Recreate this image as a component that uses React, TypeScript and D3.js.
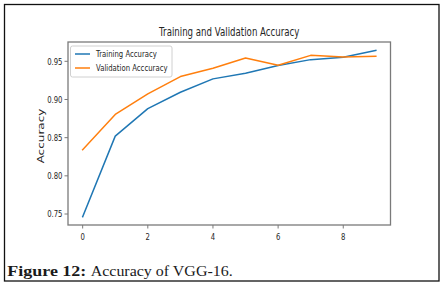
import React from "react";
import * as d3 from "d3";

const epochs = [0, 1, 2, 3, 4, 5, 6, 7, 8, 9];
const trainingAcc = [0.7465, 0.852, 0.888, 0.9095, 0.927, 0.9343, 0.9444, 0.9522, 0.9552, 0.9644];
const validationAcc = [0.8343, 0.8804, 0.9074, 0.930, 0.941, 0.9544, 0.9448, 0.9578, 0.9557, 0.9565];
const xTicks = [0, 2, 4, 6, 8];
const yTicks = [0.75, 0.8, 0.85, 0.9, 0.95];
const seriesNames = ["Training Accuracy", "Validation Acccuracy"];
const title = "Training and Validation Accuracy";
const yLabel = "Accuracy";
const captionBold = "Figure 12:";
const captionText = "Accuracy of VGG-16.";

const W = 442;
const H = 287;
const plot = { left: 68, right: 390.5, top: 42, bottom: 225 };
const SX = 0.75;
const FONT = "DejaVu Sans";
const BLUE = "#1f77b4";
const ORANGE = "#ff7f0e";

export default function App() {
  const all = [...trainingAcc, ...validationAcc];
  const yMin = d3.min(all)!;
  const yMax = d3.max(all)!;
  const yPad = (yMax - yMin) * 0.05;
  const xPad = (d3.max(epochs)! - d3.min(epochs)!) * 0.05;

  const x = d3
    .scaleLinear()
    .domain([d3.min(epochs)! - xPad, d3.max(epochs)! + xPad])
    .range([plot.left, plot.right]);
  const y = d3
    .scaleLinear()
    .domain([yMin - yPad, yMax + yPad])
    .range([plot.bottom, plot.top]);

  const line = d3
    .line<number>()
    .x((_, i) => x(epochs[i]))
    .y((d) => y(d));

  const series = [
    { name: seriesNames[0], values: trainingAcc, color: BLUE },
    { name: seriesNames[1], values: validationAcc, color: ORANGE },
  ];

  const spine = "#7a7a7a";
  const textColor = "#262626";

  return (
    <svg
      width={W}
      height={H}
      viewBox={`0 0 ${W} ${H}`}
      style={{ position: "absolute", left: 0, top: 0, background: "#fff" }}
    >
      <rect x={0} y={0} width={W} height={H} fill="#fff" />
      {/* outer figure frame */}
      <rect x={4.5} y={4.5} width={434.5} height={276.5} fill="none" stroke="#111" strokeWidth={1.3} />

      {/* title */}
      <g transform={`translate(${(plot.left + plot.right) / 2},36) scale(${SX},1)`}>
        <text textAnchor="middle" fontFamily={FONT} fontSize={11.5} fill={textColor}>
          {title}
        </text>
      </g>

      {/* lines */}
      <g>
        {series.map((s) => (
          <path
            key={s.name}
            d={line(s.values) || ""}
            fill="none"
            stroke={s.color}
            strokeWidth={1.5}
            strokeLinejoin="round"
            strokeLinecap="square"
          />
        ))}
      </g>

      {/* spines */}
      <rect
        x={plot.left}
        y={plot.top}
        width={plot.right - plot.left}
        height={plot.bottom - plot.top}
        fill="none"
        stroke={spine}
        strokeWidth={1.3}
      />

      {/* x ticks */}
      {xTicks.map((t) => (
        <g key={`x${t}`}>
          <line x1={x(t)} x2={x(t)} y1={plot.bottom} y2={plot.bottom + 3.5} stroke={spine} strokeWidth={1} />
          <g transform={`translate(${x(t)},239.5) scale(${SX},1)`}>
            <text textAnchor="middle" fontFamily={FONT} fontSize={9.2} fill={textColor}>
              {String(t)}
            </text>
          </g>
        </g>
      ))}

      {/* y ticks */}
      {yTicks.map((t) => (
        <g key={`y${t}`}>
          <line x1={plot.left - 3.5} x2={plot.left} y1={y(t)} y2={y(t)} stroke={spine} strokeWidth={1} />
          <g transform={`translate(${plot.left - 5.5},${y(t) + 3.3}) scale(${SX},1)`}>
            <text textAnchor="end" fontFamily={FONT} fontSize={9.2} fill={textColor}>
              {d3.format(".2f")(t)}
            </text>
          </g>
        </g>
      ))}

      {/* y label */}
      <g transform={`translate(44,136) scale(${SX},1) rotate(-90)`}>
        <text textAnchor="middle" fontFamily={FONT} fontSize={12} fill={textColor}>
          {yLabel}
        </text>
      </g>

      {/* legend */}
      <rect x={70.5} y={46} width={101.5} height={31} rx={2} fill="#fff" fillOpacity={0.8} stroke="#d0d0d0" strokeWidth={1} />
      {series.map((s, i) => (
        <g key={`leg${s.name}`}>
          <line x1={75} x2={90} y1={54 + i * 14} y2={54 + i * 14} stroke={s.color} strokeWidth={1.5} />
          <g transform={`translate(96,${57.3 + i * 14}) scale(${SX},1)`}>
            <text fontFamily={FONT} fontSize={9.2} fill={textColor}>
              {s.name}
            </text>
          </g>
        </g>
      ))}

      {/* caption */}
      <text
        x={7.3}
        y={276}
        fontFamily="Liberation Serif"
        fontWeight="bold"
        fontSize={14.5}
        fill="#1a1a1a"
        textLength={79}
        lengthAdjust="spacingAndGlyphs"
      >
        {captionBold}
      </text>
      <text
        x={90.7}
        y={276}
        fontFamily="Liberation Serif"
        fontSize={14.5}
        fill="#1a1a1a"
        textLength={142}
        lengthAdjust="spacingAndGlyphs"
      >
        {captionText}
      </text>
    </svg>
  );
}
